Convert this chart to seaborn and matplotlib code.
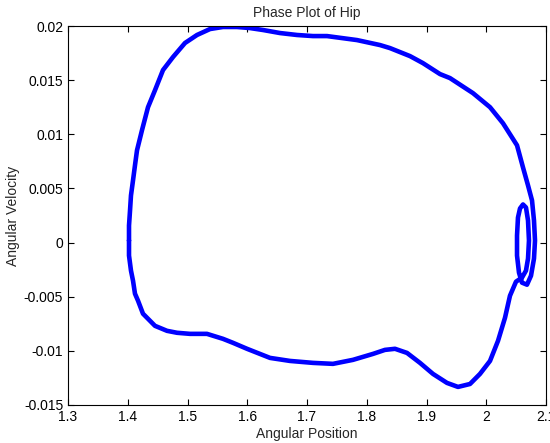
import numpy as np
import pandas as pd
import matplotlib
matplotlib.use("Agg")
import matplotlib.pyplot as plt
import seaborn as sns

# Trajectory (angular position, angular velocity)
position = [1.4021, 1.4021, 1.4038, 1.4054, 1.4088, 1.4121, 1.4155, 1.4238, 1.4339, 1.4456,
            1.4590, 1.4757, 1.4958, 1.5159, 1.5377, 1.5594, 1.5828, 1.6046, 1.6264, 1.6548,
            1.6833, 1.7100, 1.7335, 1.7837, 1.8222, 1.8389, 1.8724, 1.8941, 1.9226, 1.9393,
            1.9778, 2.0063, 2.0280, 2.0515, 2.0615, 2.0699, 2.0766, 2.0799, 2.0816, 2.0799,
            2.0749, 2.0682, 2.0598, 2.0548, 2.0515, 2.0515, 2.0531, 2.0565, 2.0615, 2.0665,
            2.0699, 2.0715, 2.0699, 2.0665, 2.0598, 2.0498, 2.0397, 2.0314, 2.0197, 2.0063,
            1.9895, 1.9728, 1.9527, 1.9343, 1.9109, 1.8891, 1.8674, 1.8473, 1.8305, 1.8105,
            1.7770, 1.7435, 1.7100, 1.6715, 1.6381, 1.5996, 1.5762, 1.5594, 1.5326, 1.5042,
            1.4824, 1.4657, 1.4456, 1.4255, 1.4172, 1.4121, 1.4088, 1.4054, 1.4021, 1.4021]
velocity = [0.00019, 0.00157, 0.00296, 0.00435, 0.00574, 0.00713, 0.00852, 0.01037, 0.01250, 0.01407,
            0.01593, 0.01713, 0.01843, 0.01917, 0.01972, 0.01991, 0.01991, 0.01981, 0.01963, 0.01935,
            0.01917, 0.01907, 0.01907, 0.01870, 0.01824, 0.01796, 0.01722, 0.01657, 0.01556, 0.01519,
            0.01380, 0.01250, 0.01102, 0.00898, 0.00694, 0.00528, 0.00389, 0.00204, 0.00019, -0.00148,
            -0.00306, -0.00389, -0.00370, -0.00278, -0.00120, 0.00065, 0.00231, 0.00315, 0.00352, 0.00324,
            0.00204, 0.00019, -0.00148, -0.00259, -0.00324, -0.00361, -0.00491, -0.00694, -0.00907, -0.01093,
            -0.01213, -0.01306, -0.01333, -0.01296, -0.01213, -0.01111, -0.01019, -0.00981, -0.00991, -0.01028,
            -0.01083, -0.01120, -0.01111, -0.01093, -0.01065, -0.00981, -0.00926, -0.00889, -0.00843, -0.00843,
            -0.00833, -0.00815, -0.00769, -0.00657, -0.00537, -0.00472, -0.00352, -0.00259, -0.00120, 0.00019]

xticks = [1.3, 1.4, 1.5, 1.6, 1.7, 1.8, 1.9, 2.0, 2.1]
xticklabels = ["1.3", "1.4", "1.5", "1.6", "1.7", "1.8", "1.9", "2", "2.1"]
yticks = [-0.015, -0.01, -0.005, 0, 0.005, 0.01, 0.015, 0.02]
yticklabels = ["-0.015", "-0.01", "-0.005", "0", "0.005", "0.01", "0.015", "0.02"]

df = pd.DataFrame({"Angular Position": position, "Angular Velocity": velocity})

sns.set_style("ticks")
plt.rcParams["font.family"] = ["Liberation Sans", "DejaVu Sans"]

fig = plt.figure(figsize=(5.5, 4.43), dpi=100)
ax = fig.add_axes([68 / 550, 38 / 443, 478 / 550, 379 / 443])

sns.lineplot(data=df, x="Angular Position", y="Angular Velocity", sort=False,
             estimator=None, color="#0000ff", linewidth=3.3, ax=ax)
for ln in ax.lines:
    ln.set_solid_joinstyle("round")
    ln.set_solid_capstyle("round")

ax.set_xlim(1.3, 2.1)
ax.set_ylim(-0.015, 0.02)
ax.set_xticks(xticks)
ax.set_xticklabels(xticklabels)
ax.set_yticks(yticks)
ax.set_yticklabels(yticklabels)
ax.tick_params(direction="in", length=4, width=0.8, top=True, right=True,
               labelsize=10, colors="black", pad=3.5)
for s in ax.spines.values():
    s.set_visible(True)
    s.set_color("black")
    s.set_linewidth(0.8)

ax.set_xlabel("Angular Position", fontsize=10, labelpad=2)
ax.set_ylabel("Angular Velocity", fontsize=10, labelpad=2.5)
ax.set_title("Phase Plot of Hip", fontsize=10, pad=6.5)

fig.savefig("out.png", dpi=100, facecolor="white")
